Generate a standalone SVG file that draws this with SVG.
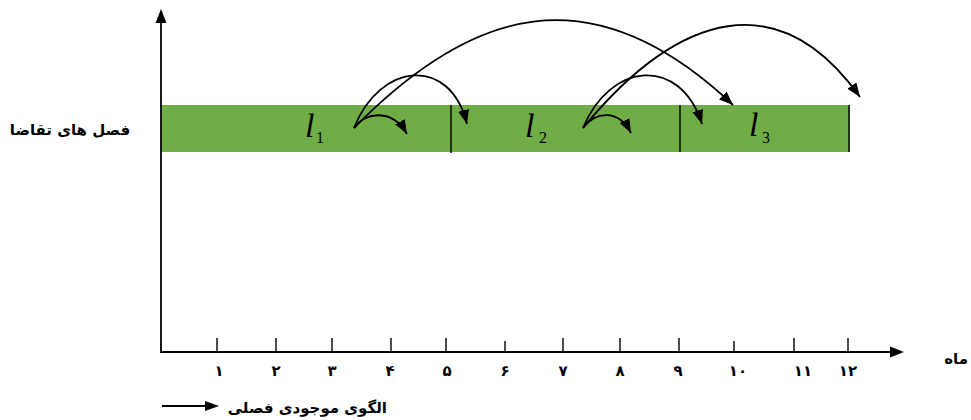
<svg xmlns="http://www.w3.org/2000/svg" width="971" height="420" viewBox="0 0 971 420">
<defs>
<marker id="ah" markerUnits="userSpaceOnUse" markerWidth="16" markerHeight="13" refX="14" refY="5.5" orient="auto">
<path d="M0,0 L14,5.5 L0,11 Z" fill="#000"/>
</marker>
<style>
.ax{stroke:#000;stroke-width:1.8;fill:none}
.tk{stroke:#000;stroke-width:1.4}
.fa{font-family:"DejaVu Sans",sans-serif;font-weight:bold;fill:#000}
.num{font-family:"DejaVu Sans",sans-serif;font-weight:bold;font-size:15px;text-anchor:middle;fill:#000}
.ell{font-family:"Liberation Serif",serif;font-style:italic;font-size:34px;fill:#000}
.sub{font-family:"Liberation Serif",serif;font-size:16px;fill:#000}
.arc{stroke:#000;stroke-width:1.8;fill:none;marker-end:url(#ah)}
</style>
</defs>
<rect width="971" height="420" fill="#fff"/>
<g id="bar">
<rect x="161" y="105" width="689" height="47" fill="#70AD47"/>
<line x1="451" y1="105" x2="451" y2="153" class="tk"/>
<line x1="680" y1="105" x2="680" y2="152" class="tk"/>
<line x1="849" y1="105" x2="849" y2="152" class="tk"/>
</g>
<g id="axes">
<line x1="161" y1="20" x2="161" y2="353" class="ax"/>
<path d="M155.5,23 L161,9 L166.5,23 Z" fill="#000"/>
<line x1="160" y1="352" x2="895" y2="352" class="ax"/>
<path d="M890,346.5 L904,352 L890,357.5 Z" fill="#000"/>
<g class="ticks">
<line x1="217" y1="338" x2="217" y2="352" class="tk"/>
<line x1="276" y1="338" x2="276" y2="352" class="tk"/>
<line x1="332" y1="338" x2="332" y2="352" class="tk"/>
<line x1="391" y1="338" x2="391" y2="352" class="tk"/>
<line x1="446" y1="338" x2="446" y2="352" class="tk"/>
<line x1="505" y1="341" x2="505" y2="352" class="tk"/>
<line x1="563" y1="338" x2="563" y2="352" class="tk"/>
<line x1="620" y1="338" x2="620" y2="352" class="tk"/>
<line x1="679" y1="338" x2="679" y2="352" class="tk"/>
<line x1="734" y1="341" x2="734" y2="352" class="tk"/>
<line x1="794" y1="338" x2="794" y2="352" class="tk"/>
<line x1="848" y1="338" x2="848" y2="352" class="tk"/>
</g>
</g>
<g id="months">
<text x="219" y="376" class="num">۱</text>
<text x="276" y="376" class="num">۲</text>
<text x="332" y="376" class="num">۳</text>
<text x="390" y="376" class="num">۴</text>
<text x="447" y="376" class="num">۵</text>
<text x="505" y="376" class="num">۶</text>
<text x="563" y="376" class="num">۷</text>
<text x="620" y="376" class="num">۸</text>
<text x="678" y="376" class="num">۹</text>
<text x="738" y="376" class="num">۱۰</text>
<text x="803" y="376" class="num">۱۱</text>
<text x="848" y="376" class="num">۱۲</text>
</g>
<g id="label-month"><text x="968" y="364" class="fa" font-size="15" text-anchor="end">ماه</text></g>
<g id="label-seasons"><text x="70" y="135" class="fa" font-size="15" text-anchor="middle">فصل های تقاضا</text></g>
<g id="legend">
<line x1="162" y1="406" x2="208" y2="406" class="ax"/>
<path d="M205,401 L219,406 L205,411 Z" fill="#000"/>
<text x="387" y="413" class="fa" font-size="15" text-anchor="end">الگوی موجودی فصلی</text>
</g>
<g id="l1"><text x="305" y="137" class="ell">l</text><text x="316" y="143" class="sub">1</text></g>
<g id="l2"><text x="525" y="137" class="ell">l</text><text x="539" y="143" class="sub">2</text></g>
<g id="l3"><text x="749" y="136" class="ell">l</text><text x="762" y="143" class="sub">3</text></g>
<g id="connectors">
<path class="arc" d="M354,128 C365,112 392,108 407,134"/>
<path class="arc" d="M354,128 C380,62 450,55 467,124"/>
<path class="arc" d="M354,128 C470,10 590,-30 733,105"/>
<path class="arc" d="M583,128 C595,112 618,108 631,133"/>
<path class="arc" d="M583,128 C610,62 680,55 702,124"/>
<path class="arc" d="M583,128 C680,10 780,-15 860,97"/>
</g>
</svg>
